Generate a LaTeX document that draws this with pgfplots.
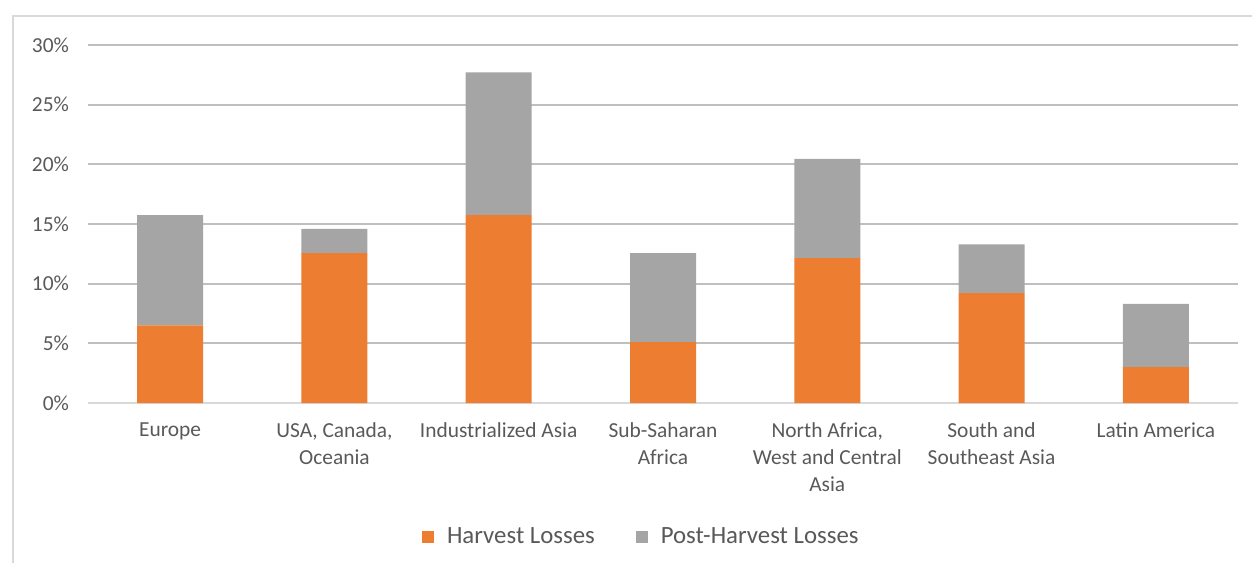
\documentclass[border=0pt]{standalone}
\usepackage{pgfplots}
\pgfplotsset{compat=1.18}
\usepackage{fontspec}
\setmainfont{Carlito}
\definecolor{txt}{HTML}{595959}
\definecolor{grid}{HTML}{D9D9D9}
\definecolor{harv}{HTML}{ED7D31}
\definecolor{post}{HTML}{A5A5A5}
\begin{document}
\begin{tikzpicture}
\path[use as bounding box] (0,0) rectangle (626pt,281.5pt);
\draw[grid, line width=1pt] (6.5pt,0) -- (6.5pt,273.5pt) -- (626pt,273.5pt);
\begin{axis}[
  at={(44pt,80pt)}, anchor=south west,
  scale only axis, width=575pt, height=179pt,
  ybar stacked, bar width=33pt,
  xmin=-0.5, xmax=6.5, ymin=0, ymax=30,
  xtick={0,1,2,3,4,5,6},
  xticklabels={Europe, {USA, Canada,\\Oceania}, Industrialized Asia, {Sub-Saharan\\Africa}, {North Africa,\\West and Central\\Asia}, {South and\\Southeast Asia}, Latin America},
  ytick={0,5,10,15,20,25,30},
  yticklabel={\pgfmathprintnumber{\tick}\%},
  /pgf/number format/assume math mode=true,
  ymajorgrids, xmajorgrids=false, grid style={grid, line width=1pt},
  axis line style={draw=none},
  major tick length=0pt, tick style={draw=none},
  tick label style={font=\fontsize{10.7}{13.5}\selectfont, text=txt},
  xticklabel style={align=center, yshift=-6.5pt},
  yticklabel style={xshift=-6pt},
  legend style={at={(0.482,-0.375)}, anchor=center, draw=none, legend columns=2,
    font=\fontsize{12.4}{14}\selectfont, text=txt,
    /tikz/every even column/.append style={column sep=18.5pt}},
  legend image code/.code={\fill[#1] (0pt,-3pt) rectangle (6pt,3pt); \path (10.5pt,0);},
]
\addplot[fill=harv, draw=none] coordinates {(0,6.5) (1,12.55) (2,15.75) (3,5.1) (4,12.15) (5,9.2) (6,3.0)};
\addplot[fill=post, draw=none] coordinates {(0,9.25) (1,2.05) (2,11.95) (3,7.45) (4,8.3) (5,4.1) (6,5.3)};
\legend{Harvest Losses, Post-Harvest Losses}
\draw[grid, line width=1pt] (rel axis cs:0,0) -- (rel axis cs:1,0);
\end{axis}
\end{tikzpicture}
\end{document}
